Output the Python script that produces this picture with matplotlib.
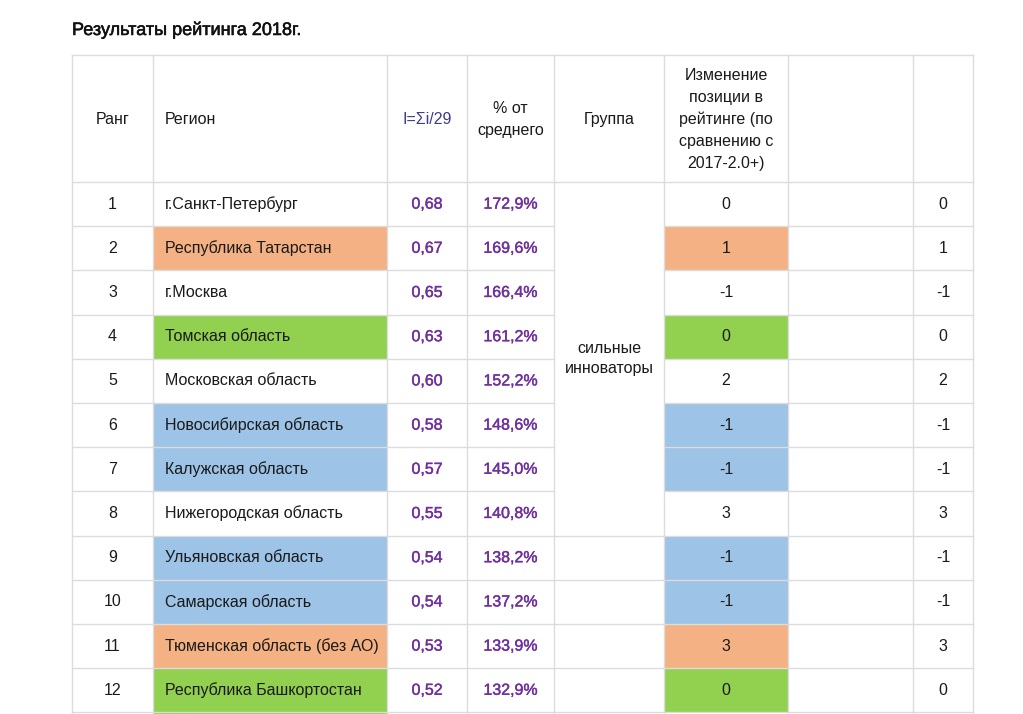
from matplotlib import pyplot as plt
from matplotlib.patches import Rectangle
import matplotlib.patheffects as pe

plt.rcParams['font.family'] = ['Liberation Sans', 'DejaVu Sans']

title = 'Результаты рейтинга 2018г.'
headers = ['Ранг', 'Регион', 'I=Σi/29', '% от\nсреднего', 'Группа',
           'Изменение\nпозиции в\nрейтинге (по\nсравнению с\n2017-2.0+)', '', '']

ranks = [1, 2, 3, 4, 5, 6, 7, 8, 9, 10, 11, 12]
regions = ['г.Санкт-Петербург', 'Республика Татарстан', 'г.Москва', 'Томская область',
           'Московская область', 'Новосибирская область', 'Калужская область',
           'Нижегородская область', 'Ульяновская область', 'Самарская область',
           'Тюменская область (без АО)', 'Республика Башкортостан']
index_values = ['0,68', '0,67', '0,65', '0,63', '0,60', '0,58', '0,57', '0,55',
                '0,54', '0,54', '0,53', '0,52']
pct_of_avg = ['172,9%', '169,6%', '166,4%', '161,2%', '152,2%', '148,6%', '145,0%',
              '140,8%', '138,2%', '137,2%', '133,9%', '132,9%']
rank_change = [0, 1, -1, 0, 2, -1, -1, 3, -1, -1, 3, 0]
group_label = 'сильные\nинноваторы'
group_rows = 8  # rows 1..8 share the merged group cell

# fill keys per row (13th row is only partly visible at the bottom)
region_fill = [None, 'o', None, 'g', None, 'b', 'b', None, 'b', 'b', 'o', 'g', 'g']
change_fill = [None, 'o', None, 'g', None, 'b', 'b', None, 'b', 'b', 'o', 'g', None]
fills = {'o': '#F4B183', 'g': '#92D050', 'b': '#9DC3E6'}

# layout (pixels)
W, H = 1023, 714
col_x = [72, 153, 387, 467, 554, 664, 788, 913, 973]
head_top, head_bot = 55, 182
row_h = 44.2
grid = '#dcdcdc'
purple = '#7030A0'
ink = '#1a1a1a'
fs = 11.5

fig = plt.figure(figsize=(W / 100, H / 100), dpi=100)
ax = fig.add_axes([0, 0, 1, 1])
ax.set_xlim(0, W)
ax.set_ylim(H, 0)
ax.axis('off')

ax.text(72, 30, title, fontsize=13, va='center', ha='left', color='#111111',
        path_effects=[pe.withStroke(linewidth=0.4, foreground='#111111')])

n_rows = len(region_fill)
row_top = [head_bot + i * row_h for i in range(n_rows)]

# cell fills
for i in range(n_rows):
    if region_fill[i]:
        ax.add_patch(Rectangle((col_x[1], row_top[i]), col_x[2] - col_x[1], row_h,
                               facecolor=fills[region_fill[i]], edgecolor='none', zorder=1))
    if change_fill[i]:
        ax.add_patch(Rectangle((col_x[5], row_top[i]), col_x[6] - col_x[5], row_h,
                               facecolor=fills[change_fill[i]], edgecolor='none', zorder=1))

# grid lines
for x in col_x:
    ax.plot([x, x], [head_top, H], color=grid, lw=1, zorder=2)
ax.plot([col_x[0], col_x[-1]], [head_top, head_top], color=grid, lw=1, zorder=2)
ax.plot([col_x[0], col_x[-1]], [head_bot, head_bot], color=grid, lw=1, zorder=2)
for i in range(1, n_rows):
    y = row_top[i]
    if i < group_rows:
        ax.plot([col_x[0], col_x[4]], [y, y], color=grid, lw=1, zorder=2)
        ax.plot([col_x[5], col_x[-1]], [y, y], color=grid, lw=1, zorder=2)
    else:
        ax.plot([col_x[0], col_x[-1]], [y, y], color=grid, lw=1, zorder=2)

# header
head_mid = (head_top + head_bot) / 2 + 1
centers = [(col_x[i] + col_x[i + 1]) / 2 for i in range(len(col_x) - 1)]
for j, h in enumerate(headers):
    if not h:
        continue
    color = '#3b3b8f' if j == 2 else ink
    if j == 1:
        ax.text(col_x[1] + 12, head_mid, h, fontsize=fs, ha='left', va='center', color=color)
    else:
        ax.text(centers[j], head_mid, h, fontsize=fs, ha='center', va='center',
                color=color, linespacing=1.55)

# body
heavy = [pe.withStroke(linewidth=0.3, foreground=purple)]
for i in range(len(ranks)):
    yc = row_top[i] + row_h / 2
    ax.text(centers[0], yc, str(ranks[i]), fontsize=fs, ha='center', va='center', color=ink)
    ax.text(col_x[1] + 12, yc, regions[i], fontsize=fs, ha='left', va='center', color=ink)
    ax.text(centers[2], yc, index_values[i], fontsize=fs, ha='center', va='center',
            color=purple, path_effects=heavy)
    ax.text(centers[3], yc, pct_of_avg[i], fontsize=fs, ha='center', va='center',
            color=purple, path_effects=heavy)
    ax.text(centers[5], yc, str(rank_change[i]), fontsize=fs, ha='center', va='center', color=ink)
    ax.text(centers[7], yc, str(rank_change[i]), fontsize=fs, ha='center', va='center', color=ink)

group_mid = head_bot + group_rows * row_h / 2
ax.text(centers[4], group_mid, group_label, fontsize=fs, ha='center', va='center',
        color=ink, linespacing=1.4)

fig.savefig('out.png', dpi=100)
